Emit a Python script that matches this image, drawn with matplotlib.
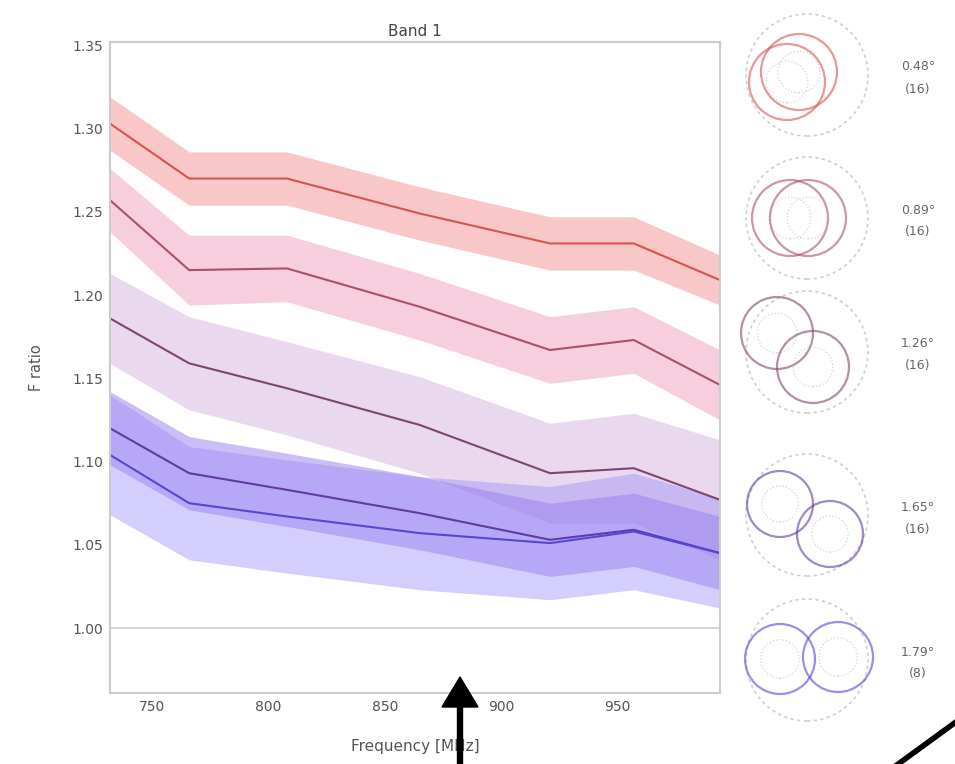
import matplotlib.pyplot as plt
from matplotlib.patches import Circle, FancyArrow
from matplotlib.lines import Line2D

# frequency channels (MHz)
freq = [732, 766, 808, 865, 921, 957, 994]

# F ratio per separation group
f1 = [1.303, 1.270, 1.270, 1.249, 1.231, 1.231, 1.209]
f2 = [1.257, 1.215, 1.216, 1.193, 1.167, 1.173, 1.146]
f3 = [1.186, 1.159, 1.144, 1.122, 1.093, 1.096, 1.077]
f4 = [1.120, 1.093, 1.083, 1.069, 1.053, 1.059, 1.045]
f5 = [1.104, 1.075, 1.067, 1.057, 1.051, 1.058, 1.045]

# spread (half width of shaded band)
s1 = [0.016, 0.016, 0.016, 0.016, 0.016, 0.016, 0.015]
s2 = [0.019, 0.021, 0.020, 0.020, 0.020, 0.020, 0.021]
s3 = [0.027, 0.028, 0.028, 0.029, 0.030, 0.033, 0.036]
s4 = [0.022, 0.022, 0.022, 0.022, 0.022, 0.022, 0.022]
s5 = [0.036, 0.034, 0.034, 0.034, 0.034, 0.035, 0.033]

sep_labels = ["0.48°", "0.89°", "1.26°", "1.65°", "1.79°"]
n_labels = ["(16)", "(16)", "(16)", "(16)", "(8)"]

line_cols = ['#d9534f', '#aa506e', '#7d466e', '#5f3ca0', '#5546d7']
band_cols = ['#f59090', '#ef9fbc', '#d2a9dc', '#8c6eeb', '#9a8cf8']
band_alpha = [0.5, 0.5, 0.45, 0.45, 0.42]

fig = plt.figure(figsize=(9.55, 7.64), dpi=100)
ax = fig.add_axes([0.1152, 0.093, 0.6387, 0.852])

series = [(f1, s1), (f2, s2), (f3, s3), (f4, s4), (f5, s5)]
for i, (f, s) in enumerate(series):
    lo = [a - b for a, b in zip(f, s)]
    hi = [a + b for a, b in zip(f, s)]
    ax.fill_between(freq, lo, hi, color=band_cols[i], alpha=band_alpha[i], lw=0)
for i, (f, s) in enumerate(series):
    ax.plot(freq, f, color=line_cols[i], lw=1.5)

ax.axhline(1.0, color='#cccccc', lw=1.2, zorder=0)
ax.set_xlim(732, 994)
ax.set_ylim(0.961, 1.352)
ax.set_xticks([750, 800, 850, 900, 950])
ax.set_yticks([1.00, 1.05, 1.10, 1.15, 1.20, 1.25, 1.30, 1.35])
ax.set_yticklabels(['1.00', '1.05', '1.10', '1.15', '1.20', '1.25', '1.30', '1.35'])
ax.tick_params(length=0, labelsize=10, colors='#555555', pad=5)
for sp in ax.spines.values():
    sp.set_color('#cccccc')
    sp.set_linewidth(1.5)
ax.set_title('Band 1', fontsize=11, color='#444444', pad=4)
ax.set_xlabel('Frequency [MHz]', fontsize=11, color='#555555', labelpad=18)
ax.set_ylabel('F ratio', fontsize=10.5, color='#555555', labelpad=20)

# beam overlap sketches on the right
centers_y = [75, 218, 352, 515, 660]
pair_mid = [(-14, -2), (-8, 0), (-12, 2), (-2, -4), (2, 2)]
offsets = [(6, 5), (9, 0), (18, -17), (25, -15), (29, 1)]
radius = [38, 38, 36, 33, 35]
for k in range(5):
    yc = centers_y[k]
    a = fig.add_axes([(807 - 75) / 955, 1 - (yc + 75) / 764, 150 / 955, 150 / 764])
    a.set_xlim(-75, 75)
    a.set_ylim(-75, 75)
    a.set_aspect('equal')
    a.axis('off')
    a.add_patch(Circle((0, 0), 61, fill=False, ec='#cfcfcf', lw=1.2, ls=(0, (2, 2))))
    mx, my = pair_mid[k]
    dx, dy = offsets[k]
    for sgn in (-1, 1):
        cx, cy = mx + sgn * dx, my + sgn * dy
        a.add_patch(Circle((cx, cy), radius[k], fill=False, ec=line_cols[k],
                           lw=1.6, alpha=0.6))
        a.add_patch(Circle((cx, cy), radius[k] * 0.55, fill=False, ec='#bbbbbb',
                           lw=0.8, ls=(0, (1, 2)), alpha=0.8))
    fig.text(918 / 955, 1 - (yc - 8) / 764, sep_labels[k], ha='center', va='center',
             fontsize=9, color='#666666')
    fig.text(918 / 955, 1 - (yc + 14) / 764, n_labels[k], ha='center', va='center',
             fontsize=9, color='#666666')

# black pointer arrow and stroke at the bottom
fig.add_artist(FancyArrow(460 / 955, -0.01, 0, (87 / 764) + 0.01, width=5 / 955,
                          head_width=36 / 955, head_length=30 / 764,
                          length_includes_head=True, color='black',
                          transform=fig.transFigure))
fig.add_artist(Line2D([893 / 955, 960 / 955], [-0.005, 45 / 764], color='black',
                      lw=4, transform=fig.transFigure))

fig.savefig('out.png', dpi=100)
